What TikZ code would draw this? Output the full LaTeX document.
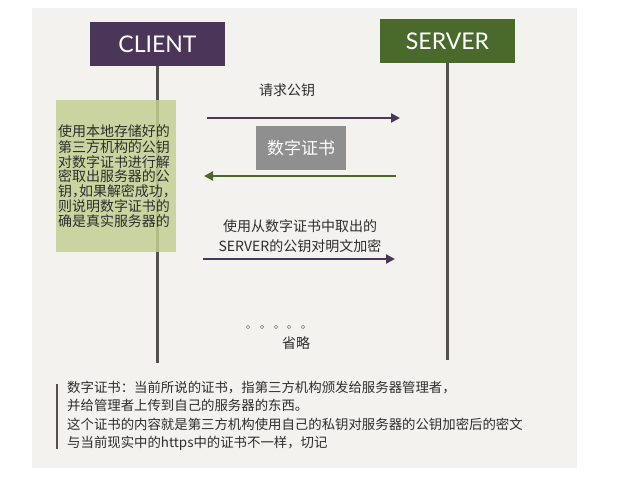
\documentclass[tikz,border=0pt]{standalone}
\usepackage{fontspec}
\setmainfont{Noto Sans CJK SC}
\newfontfamily\cjkhalt[RawFeature=+halt]{Noto Sans CJK SC}
\newfontfamily\titlefont{Lato}
\usetikzlibrary{arrows.meta, positioning}
\definecolor{paper}{RGB}{243,242,239}
\definecolor{clientpurple}{RGB}{75,53,88}
\definecolor{servergreen}{RGB}{74,106,44}
\definecolor{linegray}{RGB}{85,80,80}
\definecolor{certgray}{RGB}{143,143,143}
\definecolor{notegreen}{RGB}{195,207,148}
\definecolor{inkgray}{RGB}{45,45,45}

\begin{document}
\begin{tikzpicture}[x=1pt, y=-1pt,
    party/.style={minimum width=135pt, minimum height=44pt, inner sep=0pt,
                  text=white, font=\titlefont\fontsize{23}{23}\selectfont},
    lifeline/.style={draw=linegray, line width=3pt},
    msg/.style={-{Triangle[length=9pt, width=9pt]}, line width=2.4pt},
    label/.style={text=inkgray, font=\fontsize{14}{20}\selectfont, align=center}]
	\useasboundingbox (0,0) rectangle (622,483);
	\fill[paper] (32,8) rectangle (577,468);
	% the two parties and their lifelines
	\node[party, fill=clientpurple] (client) at (157.5,44) {CLIENT};
	\node[party, fill=servergreen] (server) at (447.5,41) {SERVER};
	\coordinate (clientend) at (157.5,363);
	\coordinate (serverend) at (447.5,360);
	\draw[lifeline] (client.south) -- (clientend);
	\draw[lifeline] (server.south) -- (serverend);
	% check done on the client side
	\node[fill=notegreen, fill opacity=0.85, text opacity=1, text=inkgray,
	      minimum width=120pt, minimum height=152pt, text width=116pt,
	      inner sep=2pt, align=left,
	      font=\cjkhalt\fontsize{14}{14.7}\selectfont] (verify) at (116,176)
	      {使用\underline{本地存储}好的\\第三方机构的公钥\\对数字证书进行解\\密取出服务器的公\\钥，如果解密成功，\\则说明数字证书的\\确是真实服务器的};
	% messages
	\node[label] (ask) at (287,90) {请求公钥};
	\coordinate (asks) at (207,118);
	\coordinate (askt) at (400,118);
	\draw[msg, clientpurple] (asks) -- (askt);
	\node[fill=certgray, text=white, minimum width=90pt, minimum height=44pt,
	      font=\fontsize{17}{17}\selectfont] (cert) at (301,148) {数字证书};
	\coordinate (certs) at (396,176);
	\coordinate (certt) at (204,176);
	\draw[msg, servergreen] (certs) -- (certt);
	\node[label] (encrypt) at (300,236) {使用从数字证书中取出的\\SERVER的公钥对明文加密};
	\coordinate (encs) at (203,259);
	\coordinate (enct) at (395,259);
	\draw[msg, clientpurple] (encs) -- (enct);
	% omitted part
	\foreach \x in {248,262,276,289,303}
		\draw[gray, line width=0.6pt] (\x,327) circle (1.8pt);
	\node[label] (omit) at (296,343) {省略};
	% footnote
	\node[anchor=north west, text=inkgray, text width=520pt, inner sep=0pt,
	      align=left, font=\fontsize{13.4}{18.4}\selectfont] (note) at (67,381)
	      {数字证书：当前所说的证书，指第三方机构颁发给服务器管理者，\\并给管理者上传到自己的服务器的东西。\\这个证书的内容就是第三方机构使用自己的私钥对服务器的公钥加密后的密文\\与当前现实中的https中的证书不一样，切记};
	\draw[linegray, line width=2pt] ([xshift=-10pt, yshift=-3pt]note.north west)
	      -- ([xshift=-10pt, yshift=2pt]note.south west);
\end{tikzpicture}
\end{document}
